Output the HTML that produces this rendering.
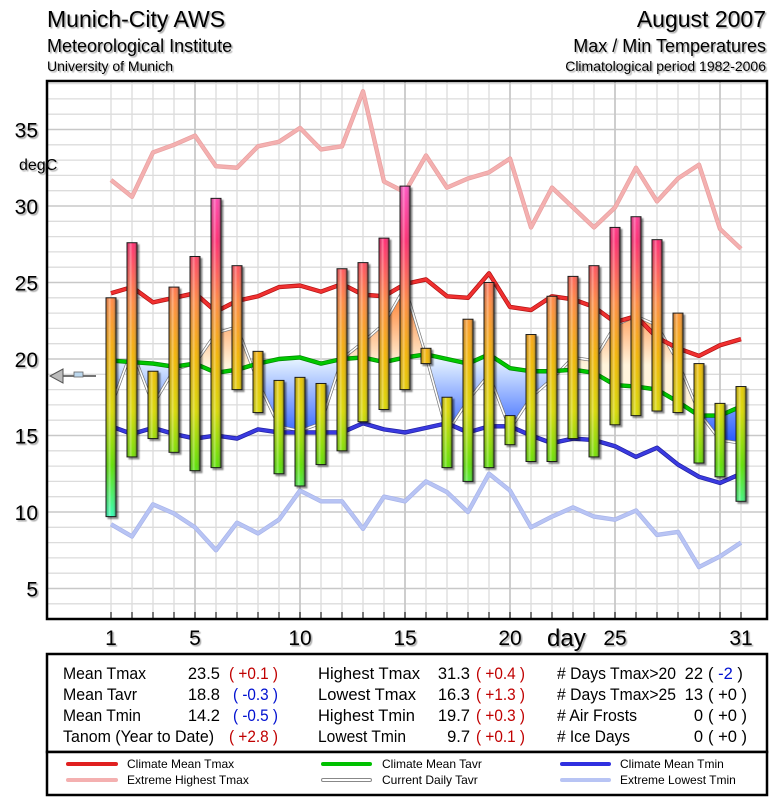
<!DOCTYPE html>
<html><head><meta charset="utf-8"><style>
body{margin:0;background:#fff;width:775px;height:800px;overflow:hidden}
svg{display:block;font-family:"Liberation Sans",Arial,sans-serif}
</style></head><body>
<svg id="chart" width="775" height="800" viewBox="0 0 775 800">
<defs>
<filter id="sh" x="-20%" y="-20%" width="160%" height="140%"><feDropShadow dx="2" dy="2" stdDeviation="0.8" flood-color="#000" flood-opacity="0.45"/></filter>
<filter id="tsh" x="-5%" y="-20%" width="110%" height="150%"><feDropShadow dx="1.5" dy="1.5" stdDeviation="0.6" flood-color="#000" flood-opacity="0.35"/></filter>
<linearGradient id="barGrad" gradientUnits="userSpaceOnUse" x1="0" y1="180" x2="0" y2="520">
<stop offset="0" stop-color="#ff55c8"/><stop offset="0.18" stop-color="#ff2a70"/><stop offset="0.36" stop-color="#ff8a40"/><stop offset="0.52" stop-color="#f2b400"/><stop offset="0.68" stop-color="#d8d800"/><stop offset="0.84" stop-color="#5ee000"/><stop offset="1" stop-color="#30ffc0"/></linearGradient>
<linearGradient id="barShade" x1="0" y1="0" x2="1" y2="0">
<stop offset="0" stop-color="#000" stop-opacity="0.15"/><stop offset="0.35" stop-color="#fff" stop-opacity="0.35"/><stop offset="0.6" stop-color="#fff" stop-opacity="0"/><stop offset="1" stop-color="#000" stop-opacity="0.45"/></linearGradient>
<linearGradient id="warmGrad" gradientUnits="userSpaceOnUse" x1="0" y1="290" x2="0" y2="365"><stop offset="0" stop-color="#ff7a28"/><stop offset="1" stop-color="#fff4dc"/></linearGradient>
<linearGradient id="coldGrad" gradientUnits="userSpaceOnUse" x1="0" y1="360" x2="0" y2="440"><stop offset="0" stop-color="#e4f2ff"/><stop offset="1" stop-color="#2a5cff"/></linearGradient>
<clipPath id="plotClip"><rect x="47" y="81" width="720" height="538"/></clipPath>
<clipPath id="aboveClip"><polygon id="aboveP"/></clipPath>
<clipPath id="belowClip"><polygon id="belowP"/></clipPath>
</defs>
<g filter="url(#tsh)">
<text x="47" y="27" font-size="23">Munich-City AWS</text>
<text x="47" y="52" font-size="18">Meteorological Institute</text>
<text x="47" y="71" font-size="14">University of Munich</text>
<text x="766" y="27" font-size="23" text-anchor="end">August 2007</text>
<text x="766" y="52" font-size="18" text-anchor="end">Max / Min Temperatures</text>
<text x="766" y="71" font-size="14" text-anchor="end">Climatological period 1982-2006</text>
</g>
<rect x="47" y="81" width="720" height="538" fill="#fff"/>
<g id="grid"></g>
<g id="series" clip-path="url(#plotClip)"></g>
<rect x="47" y="81" width="720" height="538" fill="none" stroke="#000" stroke-width="2.5"/>
<g id="axes"></g>
<g>
<line x1="62" y1="376" x2="96" y2="376" stroke="#222" stroke-width="1.2"/>
<polygon points="50,376 63,369 63,383" fill="#bbb" stroke="#555" stroke-width="1"/>
<rect x="74" y="372" width="9" height="5" fill="#bcd8ee" stroke="#666" stroke-width="0.8"/>
</g>
<text x="547" y="646" font-size="24" filter="url(#tsh)">day</text>
<text x="19" y="170" font-size="16" filter="url(#tsh)">degC</text>
<g font-size="16.5">
<rect x="47" y="654" width="720" height="98" fill="#fff" stroke="#000" stroke-width="2.5"/>
<text x="63" y="679" textLength="83" lengthAdjust="spacingAndGlyphs">Mean Tmax</text><text x="220" y="679" text-anchor="end">23.5</text><text x="229" y="679" fill="#c00000" textLength="49" lengthAdjust="spacingAndGlyphs">( +0.1 )</text>
<text x="63" y="700" textLength="74" lengthAdjust="spacingAndGlyphs">Mean Tavr</text><text x="220" y="700" text-anchor="end">18.8</text><text x="233" y="700" fill="#0010d0" textLength="45" lengthAdjust="spacingAndGlyphs">( -0.3 )</text>
<text x="63" y="721" textLength="78" lengthAdjust="spacingAndGlyphs">Mean Tmin</text><text x="220" y="721" text-anchor="end">14.2</text><text x="233" y="721" fill="#0010d0" textLength="45" lengthAdjust="spacingAndGlyphs">( -0.5 )</text>
<text x="63" y="742" textLength="151" lengthAdjust="spacingAndGlyphs">Tanom (Year to Date)</text><text x="229" y="742" fill="#c00000" textLength="49" lengthAdjust="spacingAndGlyphs">( +2.8 )</text>
<text x="318" y="679" textLength="102" lengthAdjust="spacingAndGlyphs">Highest Tmax</text><text x="470" y="679" text-anchor="end">31.3</text><text x="476" y="679" fill="#c00000" textLength="49" lengthAdjust="spacingAndGlyphs">( +0.4 )</text>
<text x="318" y="700" textLength="98" lengthAdjust="spacingAndGlyphs">Lowest Tmax</text><text x="470" y="700" text-anchor="end">16.3</text><text x="476" y="700" fill="#c00000" textLength="49" lengthAdjust="spacingAndGlyphs">( +1.3 )</text>
<text x="318" y="721" textLength="97" lengthAdjust="spacingAndGlyphs">Highest Tmin</text><text x="470" y="721" text-anchor="end">19.7</text><text x="476" y="721" fill="#c00000" textLength="49" lengthAdjust="spacingAndGlyphs">( +0.3 )</text>
<text x="318" y="742" textLength="88" lengthAdjust="spacingAndGlyphs">Lowest Tmin</text><text x="470" y="742" text-anchor="end">9.7</text><text x="476" y="742" fill="#c00000" textLength="49" lengthAdjust="spacingAndGlyphs">( +0.1 )</text>
<text x="557" y="679" textLength="119" lengthAdjust="spacingAndGlyphs"># Days Tmax&gt;20</text><text x="703" y="679" text-anchor="end">22</text><text x="708" y="679"><tspan>( </tspan><tspan fill="#0010d0">-2</tspan><tspan> )</tspan></text>
<text x="557" y="700" textLength="119" lengthAdjust="spacingAndGlyphs"># Days Tmax&gt;25</text><text x="703" y="700" text-anchor="end">13</text><text x="708" y="700">( +0 )</text>
<text x="557" y="721" textLength="80" lengthAdjust="spacingAndGlyphs"># Air Frosts</text><text x="703" y="721" text-anchor="end">0</text><text x="708" y="721">( +0 )</text>
<text x="557" y="742" textLength="73" lengthAdjust="spacingAndGlyphs"># Ice Days</text><text x="703" y="742" text-anchor="end">0</text><text x="708" y="742">( +0 )</text>
</g>
<g font-size="12">
<rect x="47" y="752" width="720" height="43" fill="#fff" stroke="#000" stroke-width="2.5"/>
<line x1="68" y1="764" x2="116" y2="764" stroke="#e02020" stroke-width="4" stroke-linecap="round"/><text x="127" y="768">Climate Mean Tmax</text>
<line x1="68" y1="780" x2="116" y2="780" stroke="#f4b0b0" stroke-width="4" stroke-linecap="round"/><text x="127" y="784">Extreme Highest Tmax</text>
<line x1="323" y1="764" x2="370" y2="764" stroke="#00c000" stroke-width="4" stroke-linecap="round"/><text x="382" y="768">Climate Mean Tavr</text>
<line x1="323" y1="780" x2="370" y2="780" stroke="#888" stroke-width="4" stroke-linecap="round"/><line x1="323" y1="780" x2="370" y2="780" stroke="#fff" stroke-width="2" stroke-linecap="round"/><text x="382" y="784">Current Daily Tavr</text>
<line x1="562" y1="764" x2="609" y2="764" stroke="#3030e0" stroke-width="4" stroke-linecap="round"/><text x="620" y="768">Climate Mean Tmin</text>
<line x1="562" y1="780" x2="609" y2="780" stroke="#b8c4f4" stroke-width="4" stroke-linecap="round"/><text x="620" y="784">Extreme Lowest Tmin</text>
</g>
</svg>
<script>
const days = [1,2,3,4,5,6,7,8,9,10,11,12,13,14,15,16,17,18,19,20,21,22,23,24,25,26,27,28,29,30,31];
const tmax = [24.0,27.6,19.2,24.7,26.7,30.5,26.1,20.5,18.6,18.8,18.4,25.9,26.3,27.9,31.3,20.7,17.5,22.6,25.0,16.3,21.6,24.1,25.4,26.1,28.6,29.3,27.8,23.0,19.7,17.1,18.2];
const tmin = [9.7,13.6,14.8,13.9,12.7,12.9,18.0,16.5,12.5,11.7,13.1,14.0,15.9,16.7,18.0,19.7,12.9,12.0,12.9,14.4,13.3,13.3,14.8,13.6,15.7,16.3,16.6,16.5,13.2,12.3,10.7];
const tavr = [16.9,20.6,17.0,19.3,19.7,21.7,22.1,18.5,15.6,15.3,15.8,20.0,21.1,22.3,24.7,20.2,15.2,17.3,19.0,15.4,17.5,18.7,20.1,19.9,22.2,22.8,22.2,19.8,16.5,14.7,14.5];
const climMax = [24.3,24.7,23.7,24.0,24.3,23.1,23.8,24.1,24.7,24.8,24.4,24.9,24.2,24.1,24.9,25.2,24.1,24.0,25.6,23.4,23.2,24.1,23.9,23.4,22.4,22.8,21.4,20.7,20.2,20.9,21.3];
const climAvr = [19.9,19.8,19.7,19.5,19.7,19.1,19.3,19.7,20.0,20.1,19.7,20.0,20.1,19.8,20.1,20.3,20.0,19.7,20.3,19.4,19.2,19.2,19.3,19.1,18.3,18.2,18.0,17.2,16.3,16.3,16.9];
const climMin = [15.6,15.1,15.5,15.1,14.8,15.0,14.8,15.4,15.2,15.2,15.2,15.2,15.8,15.4,15.2,15.5,15.8,15.2,15.6,15.6,15.0,14.5,14.8,14.7,14.3,13.6,14.2,13.1,12.3,11.9,12.5];
const extMax = [31.7,30.6,33.5,34.0,34.6,32.6,32.5,33.9,34.2,35.1,33.7,33.9,37.5,31.6,30.9,33.3,31.2,31.8,32.2,33.1,28.6,31.2,29.9,28.6,29.9,32.5,30.3,31.8,32.7,28.5,27.2];
const extMin = [9.2,8.4,10.5,9.9,9.0,7.5,9.3,8.6,9.5,11.4,10.7,10.7,8.9,11.0,10.7,12.0,11.3,10.0,12.5,11.4,9.0,9.7,10.3,9.7,9.5,10.1,8.5,8.7,6.4,7.1,8.0];
const yTicks = [5,10,15,20,25,30,35];
const xTicks = [1,5,10,15,20,25,31];

const NS='http://www.w3.org/2000/svg';
const xs = d => 111 + 21*(d-1);
const ys = t => 665 - 15.3*t;
function mk(tag, attrs, parent){const e=document.createElementNS(NS,tag);for(const k in attrs)e.setAttribute(k,attrs[k]);parent.appendChild(e);return e;}
const grid=document.getElementById('grid'), series=document.getElementById('series'), axes=document.getElementById('axes');

for(let t=4;t<=38;t++){
  const l=mk('line',{x1:47,x2:767,y1:ys(t),y2:ys(t),stroke:t%5===0?'#c8c8c8':'#dcdcdc','stroke-width':t%5===0?1.6:1.3},grid);
  
  
}
for(const d of days){
  const l=mk('line',{x1:xs(d),x2:xs(d),y1:81,y2:619,stroke:d%5===0?'#c8c8c8':'#dcdcdc','stroke-width':d%5===0?1.8:1.3},grid);
  
  
  const tk=mk('line',{x1:xs(d),x2:xs(d),y1:612,y2:619,stroke:'#000','stroke-width':1},axes);
  
  
}
for(const t of yTicks){
  const tx=mk('text',{x:38,y:ys(t)+8,'font-size':21,'text-anchor':'end',filter:'url(#tsh)'},axes);
  tx.textContent=t;
  
  
}
for(const d of xTicks){
  const tx=mk('text',{x:xs(d),y:645,'font-size':21,'text-anchor':'middle',filter:'url(#tsh)'},axes);
  tx.textContent=d;
  
  
}
const pts = arr => arr.map((v,i)=>xs(days[i])+','+ys(v)).join(' ');
function line(arr,color,w,name,edge){
  if(edge){const e=mk('polyline',{points:pts(arr),fill:'none',stroke:edge,'stroke-width':w+1.4,'stroke-linejoin':'round'},series);
    
    }
  const p=mk('polyline',{points:pts(arr),fill:'none',stroke:color,'stroke-width':w,'stroke-linejoin':'round'},series);
  
  
}
line(extMax,'#f4b0b0',3,'extreme-highest-tmax-line','#e8a0a0');
line(extMin,'#b8c4f4',3,'extreme-lowest-tmin-line','#a8b4ea');
const gp = pts(climAvr);
const x0=xs(days[0]), x1=xs(days[days.length-1]);
document.getElementById('aboveP').setAttribute('points', gp+' '+x1+',81 '+x0+',81');
document.getElementById('belowP').setAttribute('points', gp+' '+x1+',619 '+x0+',619');
const areaPts = pts(tavr)+' '+climAvr.map((v,i)=>[xs(days[i]),ys(v)]).reverse().map(p=>p.join(',')).join(' ');
const wa=mk('polygon',{points:areaPts,fill:'url(#warmGrad)','clip-path':'url(#aboveClip)'},series);


const ca=mk('polygon',{points:areaPts,fill:'url(#coldGrad)','clip-path':'url(#belowClip)'},series);


line(tavr,'#ffffff',1.6,'current-daily-tavr-line','#777');
line(climAvr,'#00c800',3,'climate-mean-tavr-line','#008800');
line(climMin,'#3a3ae0',3,'climate-mean-tmin-line','#2020a0');
line(climMax,'#f03030',3,'climate-mean-tmax-line','#b01010');
days.forEach((d,i)=>{
  const g=mk('g',{filter:'url(#sh)'},series);
  
  
  const y1=ys(tmax[i]), y2=ys(tmin[i]);
  mk('rect',{x:xs(d)-5,y:y1,width:10,height:y2-y1,fill:'url(#barGrad)'},g);
  mk('rect',{x:xs(d)-5,y:y1,width:10,height:y2-y1,fill:'url(#barShade)',stroke:'#1a1a1a','stroke-width':1},g);
});
</script>
</body></html>
